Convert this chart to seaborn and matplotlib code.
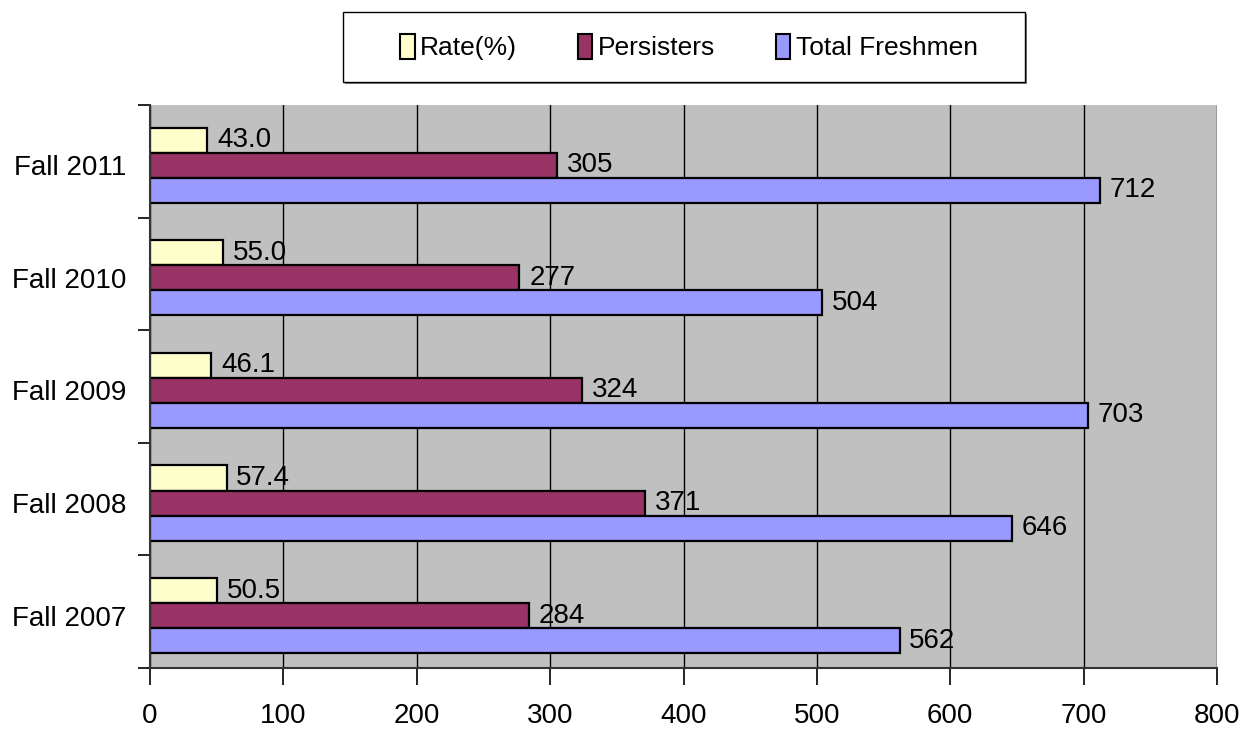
import matplotlib
matplotlib.use("Agg")
import matplotlib.pyplot as plt
import seaborn as sns
import pandas as pd
from matplotlib.patches import Rectangle
from matplotlib import font_manager

categories = ["Fall 2011", "Fall 2010", "Fall 2009", "Fall 2008", "Fall 2007"]
rate = [43.0, 55.0, 46.1, 57.4, 50.5]
persisters = [305, 277, 324, 371, 284]
total_freshmen = [712, 504, 703, 646, 562]
series_names = ["Rate(%)", "Persisters", "Total Freshmen"]
colors = ["#FFFFCC", "#993366", "#9999FF"]
x_ticks = [0, 100, 200, 300, 400, 500, 600, 700, 800]

sns.set_style("white")
avail = {f.name for f in font_manager.fontManager.ttflist}
fam = [f for f in ["Liberation Sans Narrow", "Liberation Sans", "DejaVu Sans"] if f in avail]
narrow = fam[0] == "Liberation Sans Narrow"
plt.rcParams["font.family"] = fam
plt.rcParams["text.color"] = "black"
plt.rcParams["xtick.color"] = "black"
plt.rcParams["ytick.color"] = "black"

fs = 24 if narrow else 20
lfs = 23 if narrow else 19

rows = []
for c, r, p, t in zip(categories, rate, persisters, total_freshmen):
    rows.append({"cat": c, "series": series_names[0], "value": r})
    rows.append({"cat": c, "series": series_names[1], "value": p})
    rows.append({"cat": c, "series": series_names[2], "value": t})
df = pd.DataFrame(rows)

W, H = 1256, 746
fig = plt.figure(figsize=(W / 100, H / 100), dpi=100)
ax = fig.add_axes([150 / W, 1 - 668 / H, (1217 - 150) / W, (668 - 105) / H])
ax.set_facecolor("#C0C0C0")

sns.barplot(data=df, y="cat", x="value", hue="series", order=categories,
            hue_order=series_names, palette=colors, orient="h", width=0.667,
            edgecolor="black", linewidth=1.6, ax=ax, legend=False, errorbar=None,
            saturation=1)

shift = 0.035
ax.set_ylim(len(categories) - 0.5 - shift, -0.5 - shift)
ax.set_xlim(0, 800)
ax.set_xticks(x_ticks)
ax.set_xticklabels([str(v) for v in x_ticks], fontsize=fs)
ax.grid(axis="x", color="black", linewidth=1.0)
ax.set_axisbelow(True)
ax.set_xlabel("")
ax.set_ylabel("")
ax.tick_params(axis="x", bottom=True, direction="out", length=12, width=1.2, color="black", pad=13)
ax.set_yticks(range(len(categories)), minor=False)
ax.set_yticklabels(categories, fontsize=fs)
ax.tick_params(axis="y", which="major", left=True, length=0, pad=17)
ax.set_yticks([i - 0.5 - shift for i in range(len(categories) + 1)], minor=True)
ax.tick_params(axis="y", which="minor", left=True, direction="out", length=9, width=1.2, color="black")
for s in ["top", "right"]:
    ax.spines[s].set_visible(False)
for s in ["left", "bottom"]:
    ax.spines[s].set_color("#333333")
    ax.spines[s].set_linewidth(1.5)

for i, cont in enumerate(ax.containers):
    if i == 0:
        labels = ["{:.1f}".format(v) for v in cont.datavalues]
    else:
        labels = ["{:d}".format(int(round(v))) for v in cont.datavalues]
    ax.bar_label(cont, labels=labels, padding=7, fontsize=fs, color="black")

# legend box (drawn in figure pixels) with slight shadow
x0, y0, x1, y1 = 343, 12, 1025, 82
fig.patches.append(Rectangle(((x0 + 2) / W, 1 - (y1 + 2) / H), (x1 - x0) / W, (y1 - y0) / H,
                             transform=fig.transFigure, facecolor="#808080", edgecolor="none",
                             zorder=0))
fig.patches.append(Rectangle((x0 / W, 1 - y1 / H), (x1 - x0) / W, (y1 - y0) / H,
                             transform=fig.transFigure, facecolor="white", edgecolor="black",
                             linewidth=1.0, zorder=0.5))

handles = [Rectangle((0, 0), 1, 1, facecolor=c, edgecolor="black", linewidth=1.5) for c in colors]
leg = fig.legend(handles, series_names, loc="center", bbox_to_anchor=(689 / W, 1 - 47 / H),
                 ncol=3, frameon=False, fontsize=lfs, handlelength=0.55, handleheight=1.1,
                 handletextpad=0.2, columnspacing=2.3, borderpad=0.0, borderaxespad=0)
for t in leg.get_texts():
    t.set_color("black")

fig.savefig("out.png", dpi=100, facecolor="white")
